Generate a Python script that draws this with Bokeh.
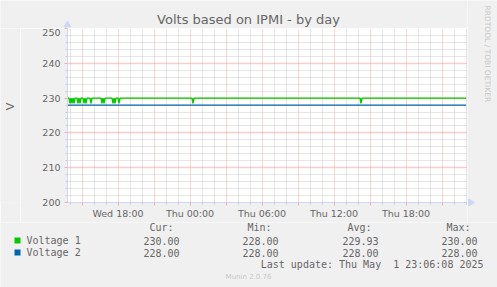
import math
import pandas as pd
from bokeh.plotting import figure
from bokeh.layouts import row, column
from bokeh.models import (FixedTicker, DatetimeTickFormatter, Range1d, ColumnDataSource)
from bokeh.core.properties import value
from bokeh.embed import file_html
from bokeh.resources import INLINE

# ---------------- data ----------------
title = "Volts based on IPMI - by day"
y_label = "V"

v1_time = ["2025-04-30 13:50", "2025-04-30 13:55", "2025-04-30 14:00", "2025-04-30 14:05",
           "2025-04-30 14:10", "2025-04-30 14:15", "2025-04-30 14:20", "2025-04-30 14:25",
           "2025-04-30 14:35", "2025-04-30 14:40", "2025-04-30 14:45", "2025-04-30 14:50",
           "2025-04-30 14:55", "2025-04-30 15:05", "2025-04-30 15:10", "2025-04-30 15:15",
           "2025-04-30 15:20", "2025-04-30 15:25", "2025-04-30 15:40", "2025-04-30 15:45",
           "2025-04-30 15:50", "2025-04-30 16:35", "2025-04-30 16:40", "2025-04-30 16:45",
           "2025-04-30 16:50", "2025-04-30 16:55", "2025-04-30 17:30", "2025-04-30 17:35",
           "2025-04-30 17:40", "2025-04-30 17:45", "2025-04-30 17:50", "2025-04-30 18:00",
           "2025-04-30 18:05", "2025-04-30 18:10", "2025-05-01 00:10", "2025-05-01 00:15",
           "2025-05-01 00:20", "2025-05-01 14:10", "2025-05-01 14:15", "2025-05-01 14:20",
           "2025-05-01 23:00"]
v1_value = [230, 230, 228.5, 230,
            228.5, 230, 228.5, 230,
            230, 228.5, 230, 228.5,
            230, 230, 228.5, 230,
            228.5, 230, 230, 228.5,
            230, 230, 228.5, 230,
            228.5, 230, 230, 228.5,
            230, 228.5, 230, 230,
            228.5, 230, 230, 228.5,
            230, 230, 228.5, 230,
            230]
v2_time = ["2025-04-30 13:50", "2025-05-01 23:00"]
v2_value = [228, 228]

series_names = ["Voltage 1", "Voltage 2"]
series_colors = ["#00cc00", "#0066b3"]
stat_headers = ["Cur:", "Min:", "Avg:", "Max:"]
v1_stats = ["230.00", "228.00", "229.93", "230.00"]
v2_stats = ["228.00", "228.00", "228.00", "228.00"]
y_ticks = [200, 210, 220, 230, 240, 250]
last_update = "Last update: Thu May\u00a0 1 23:06:08 2025"
footer = "Munin 2.0.76"
side_text = "RRDTOOL / TOBI OETIKER"

# visible time window (400 px wide, 5 min per px)
x_start = pd.Timestamp("2025-04-30 13:47:30")
x_end = pd.Timestamp("2025-05-01 23:07:30")

# ---------------- styles ----------------
BG = "#f0f0f0"
FONT_COLOR = "#666666"
AXIS_COLOR = "#cfd6f8"
MGRID = "#f4acac"
GRID = "#cccccc"
SANS = "DejaVu Sans"
MONO = "DejaVu Sans Mono"


def ms(ts):
    return ts.value / 1e6


def strip(w, h):
    """A figure whose frame is the whole strip, in pixel units (y downward)."""
    f = figure(width=w, height=h, x_range=Range1d(0, w), y_range=Range1d(h, 0),
               x_axis_type=None, y_axis_type=None, output_backend="svg",
               toolbar_location=None, min_border=0,
               background_fill_color=BG, border_fill_color=BG, outline_line_color=None)
    f.grid.visible = False
    return f


def txt(f, xs, ys, texts, align="left", size="10px", font=MONO, color=FONT_COLOR, angle=0.0):
    src = ColumnDataSource(dict(x=xs, y=ys, text=texts))
    f.text("x", "y", text="text", source=src, text_align=align, text_baseline="middle",
           text_font=value(font), text_font_size=size, text_color=color, angle=angle)


# ---------------- main chart ----------------
p = figure(width=447, height=194, x_axis_type="datetime",
           x_range=Range1d(ms(x_start), ms(x_end)), y_range=Range1d(200, 250),
           output_backend="svg", toolbar_location=None,
           min_border_left=47, min_border_right=0, min_border_top=0, min_border_bottom=20,
           background_fill_color="white", border_fill_color=BG,
           outline_line_color=None)

s1 = ColumnDataSource(dict(t=pd.to_datetime(v1_time), v=v1_value))
s2 = ColumnDataSource(dict(t=pd.to_datetime(v2_time), v=v2_value))
p.line("t", "v", source=s1, line_color=series_colors[0], line_width=1.4)
p.line("t", "v", source=s2, line_color=series_colors[1], line_width=1.3)

major_ts = list(pd.date_range("2025-04-30 15:00", "2025-05-01 21:00", freq="3h"))
major_x = [ms(t) for t in major_ts]
minor_x = [ms(t) for t in pd.date_range("2025-04-30 14:00", "2025-05-01 23:00", freq="1h")
           if t.hour % 3 != 0]
x_ticker = FixedTicker(ticks=major_x, minor_ticks=minor_x)
y_ticker = FixedTicker(ticks=y_ticks,
                       minor_ticks=[v for v in range(202, 250, 2) if v % 10 != 0])
p.xaxis.ticker = x_ticker
p.yaxis.ticker = y_ticker
p.xgrid.ticker = x_ticker
p.ygrid.ticker = y_ticker

fmt = "%a %H:%M"
p.xaxis.formatter = DatetimeTickFormatter(hours=fmt, hourmin=fmt, days=fmt, minutes=fmt,
                                         minsec=fmt, seconds=fmt, months=fmt, years=fmt,
                                         context=None)
p.xaxis.major_label_overrides = {ms(t): "" for t in major_ts if t.hour % 6 != 0}

for ax in (p.xaxis, p.yaxis):
    ax.axis_line_color = AXIS_COLOR
    ax.major_tick_line_color = MGRID
    ax.minor_tick_line_color = GRID
    ax.major_tick_out = 3
    ax.major_tick_in = 0
    ax.minor_tick_out = 2
    ax.minor_tick_in = 0
    ax.major_label_text_font = SANS
    ax.major_label_text_font_size = "9.5px"
    ax.major_label_text_color = FONT_COLOR
p.xaxis.major_label_standoff = 2
p.yaxis.major_label_standoff = 4

for g in (p.xgrid, p.ygrid):
    g.grid_line_color = MGRID
    g.grid_line_width = 1
    g.grid_line_dash = "1 1"
    g.minor_grid_line_color = GRID
    g.minor_grid_line_width = 1
    g.minor_grid_line_dash = "1 1"
p.ygrid.grid_line_color = "#f09a9a"
p.ygrid.grid_line_width = 1.3

# ---------------- surrounding strips ----------------
top = strip(467, 28)
txt(top, [248], [19], [title], align="center", size="13px", font=SANS)
top.scatter([67], [24.5], marker="triangle", size=7, fill_color=AXIS_COLOR, line_color=AXIS_COLOR)

left = strip(20, 194)
txt(left, [10], [87], [y_label], align="center", size="11px", font=SANS, angle=math.pi / 2)

right = strip(30, 222)
txt(right, [20], [5], [side_text], align="left", size="7.5px", font=SANS, color="#c8c8c8",
    angle=-math.pi / 2)
right.scatter([3], [202], marker="triangle", angle=-math.pi / 2, size=7,
              fill_color=AXIS_COLOR, line_color=AXIS_COLOR)

leg = strip(497, 65)
header_right = [173, 271, 371, 470]
value_right = [179, 278, 378, 477]
rows_y = [18, 30]
txt(leg, header_right, [5] * 4, stat_headers, align="right")
leg.rect([17, 17], rows_y, width=6, height=6, fill_color=series_colors, line_color=None)
txt(leg, [26, 26], rows_y, series_names)
txt(leg, value_right, [rows_y[0]] * 4, v1_stats, align="right")
txt(leg, value_right, [rows_y[1]] * 4, v2_stats, align="right")
txt(leg, [483], [42], [last_update], align="right")
txt(leg, [248], [54], [footer], align="center", size="7px", font=SANS, color="#c8c8c8")

layout = column(row(column(top, row(left, p)), right), leg)
open("out.html", "w").write(file_html(layout, INLINE))
